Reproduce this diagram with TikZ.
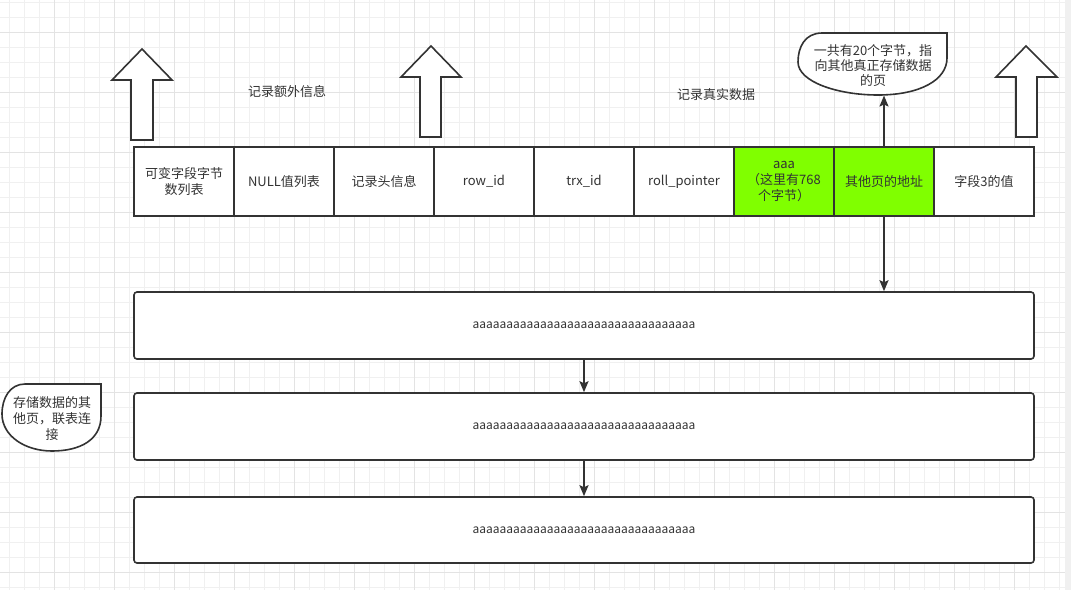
\documentclass[tikz,border=0pt]{standalone}
\usepackage{fontspec}
\setmainfont{Noto Sans CJK SC}
\usetikzlibrary{arrows.meta}
\definecolor{gridminor}{HTML}{F0F0F0}
\definecolor{gridmajor}{HTML}{E3E3E3}
\definecolor{ink}{HTML}{333333}
\definecolor{limefill}{HTML}{80FF00}
\begin{document}
\begin{tikzpicture}[x=1pt,y=-1pt,
  hollow/.style={draw=ink, fill=white, line width=1.6pt, line join=miter},
  cell/.style={draw=ink, fill=white, line width=1.6pt, minimum width=100pt, minimum height=69pt,
    inner sep=0pt, align=center, text=ink, font=\fontsize{13}{16}\selectfont},
  bigbox/.style={draw=ink, fill=white, line width=1.6pt, rounded corners=3pt, minimum width=900pt,
    inner sep=0pt, text=ink, font=\fontsize{12}{14}\selectfont},
  lbl/.style={inner sep=0pt, align=center, text=ink, font=\fontsize{13}{16}\selectfont},
  bubble/.style={draw=ink, fill=white, line width=1.6pt},
  conn/.style={draw=ink, line width=1.6pt, -{Stealth[length=11pt,width=9pt,inset=2pt]}}
]
\useasboundingbox (0,0) rectangle (1071,590);
\fill[white] (0,0) rectangle (1071,590);
% grid
\foreach \x in {9.5,24.5,...,1064} \draw[gridminor, line width=1pt] (\x,0) -- (\x,590);
\foreach \y in {2.5,17.5,...,590} \draw[gridminor, line width=1pt] (0,\y) -- (1065,\y);
\foreach \x in {54.5,114.5,...,1064} \draw[gridmajor, line width=1pt] (\x,0) -- (\x,590);
\foreach \y in {32.5,92.5,...,590} \draw[gridmajor, line width=1pt] (0,\y) -- (1065,\y);
\fill[gridminor] (1065,0) rectangle (1071,590);

% hollow up arrows
\draw[hollow] (142,49) -- (172,80) -- (153,80) -- (153,140) -- (131,140) -- (131,80) -- (112,80) -- cycle;
\draw[hollow] (431,46) -- (461,77) -- (441,77) -- (441,137) -- (420,137) -- (420,77) -- (401,77) -- cycle;
\draw[hollow] (1026,46) -- (1057,77) -- (1037,77) -- (1037,137) -- (1016,137) -- (1016,77) -- (996,77) -- cycle;

% labels
\node[lbl] (extra) at (287,92) {记录额外信息};
\node[lbl] (real) at (716,95) {记录真实数据};

% record cells
\node[cell] (c1) at (184,181.5) {可变字段字节\\数列表};
\node[cell] (c2) at (284,181.5) {NULL值列表};
\node[cell] (c3) at (384,181.5) {记录头信息};
\node[cell] (c4) at (484,181.5) {row\_id};
\node[cell] (c5) at (584,181.5) {trx\_id};
\node[cell] (c6) at (684,181.5) {roll\_pointer};
\node[cell, fill=limefill] (c7) at (784,181.5) {aaa\\（这里有768\\个字节）};
\node[cell, fill=limefill] (c8) at (884,181.5) {其他页的地址};
\node[cell] (c9) at (984,181.5) {字段3的值};

% overflow pages
\node[bigbox, minimum height=67pt] (b1) at (584,325.5) {aaaaaaaaaaaaaaaaaaaaaaaaaaaaaaaaa};
\node[bigbox, minimum height=67pt] (b2) at (584,426.5) {aaaaaaaaaaaaaaaaaaaaaaaaaaaaaaaaa};
\node[bigbox, minimum height=66pt] (b3) at (584,530) {aaaaaaaaaaaaaaaaaaaaaaaaaaaaaaaaa};

% callout bubbles
\draw[bubble] (947,33) -- (822,33) .. controls (805,33) and (798,47) .. (798,62)
  .. controls (798,82) and (838,95) .. (878,95) .. controls (920,95) and (947,80) .. (947,58) -- cycle;
\coordinate (rb) at (884,95.5);
\node[lbl, font=\fontsize{13}{14.8}\selectfont] (note1) at (873,65.5) {一共有20个字节，指\\向其他真正存储数据\\的页};

\draw[bubble] (101,384) -- (25,384) .. controls (10,384) and (2,398) .. (2,414)
  .. controls (2,436) and (25,451) .. (52,451) .. controls (80,451) and (101,440) .. (101,416) -- cycle;
\node[lbl] (note2) at (52,419) {存储数据的其\\他页，联表连\\接};

% connectors
\draw[conn] (c8.north) -- (rb);
\draw[conn] (c8.south) -- (c8.south |- b1.north);
\draw[conn] (b1) -- (b2);
\draw[conn] (b2) -- (b3);
\end{tikzpicture}
\end{document}
